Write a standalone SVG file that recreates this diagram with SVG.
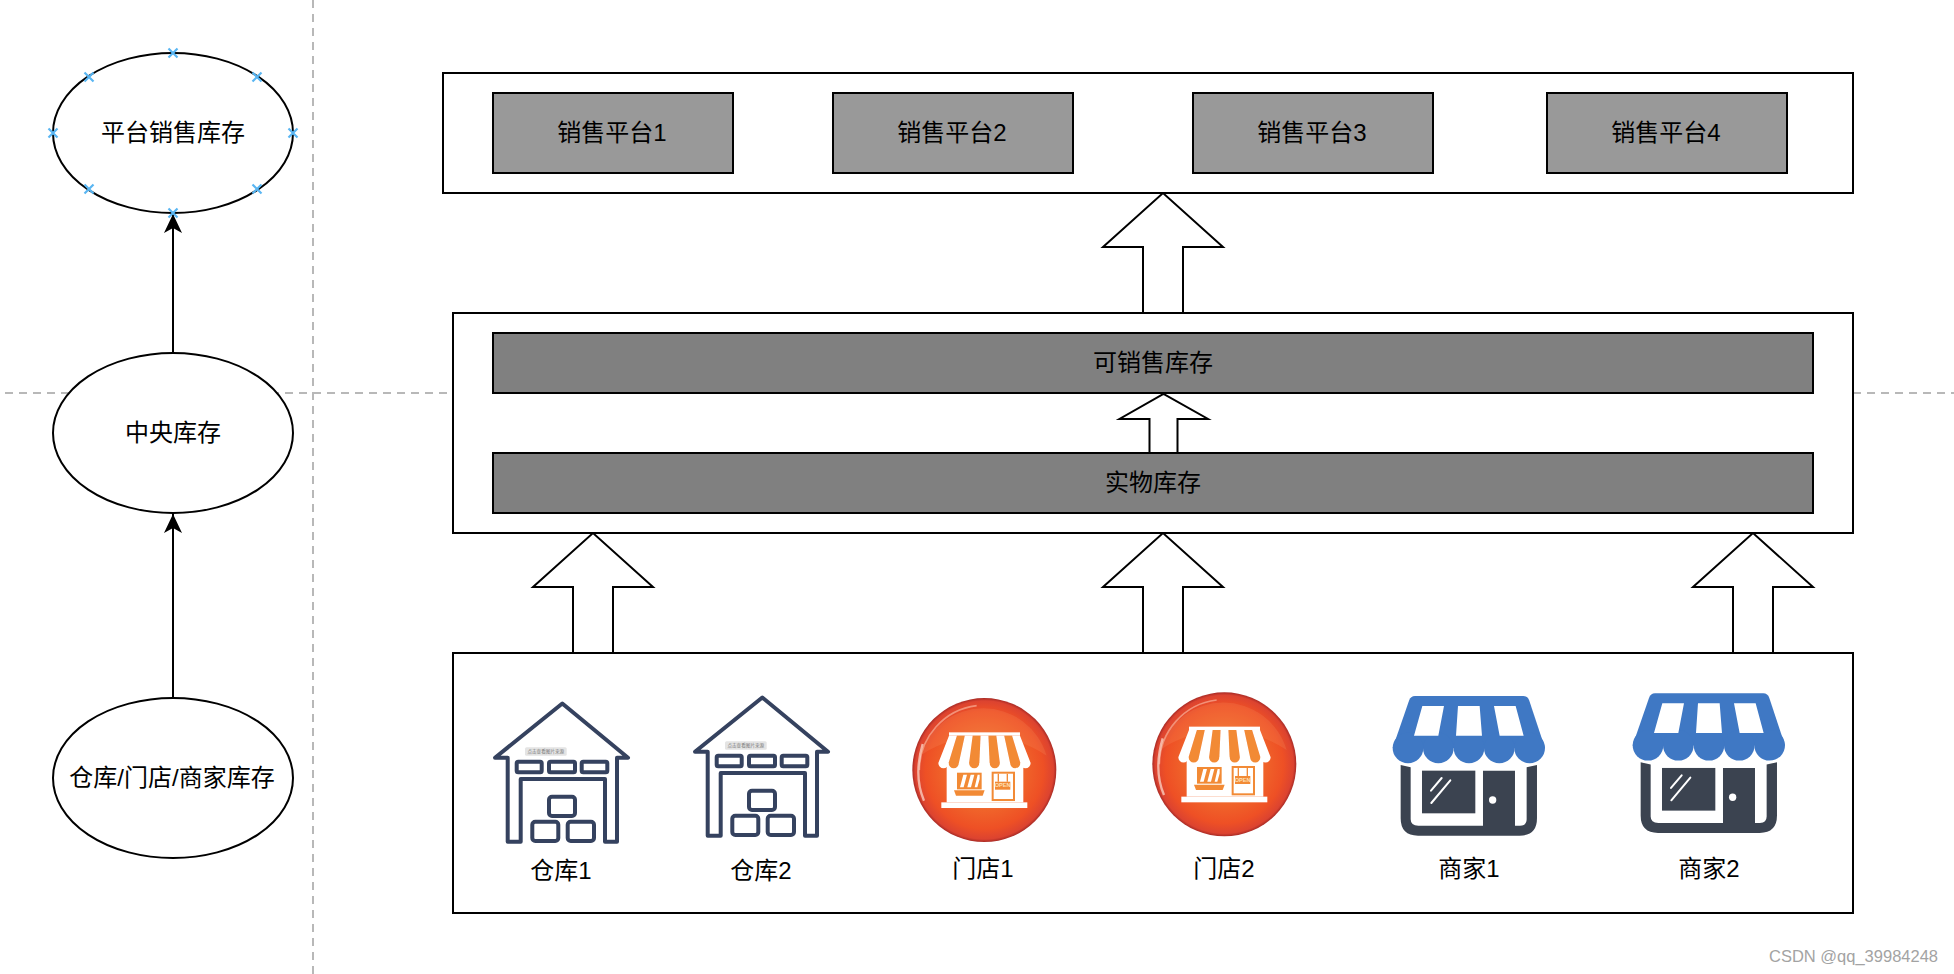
<svg xmlns="http://www.w3.org/2000/svg" width="1954" height="974" viewBox="0 0 1954 974">
<style>
text{font-family:"Liberation Sans","Noto Sans CJK SC",sans-serif;font-size:24px;fill:#000;text-anchor:middle}
.box{fill:#fff;stroke:#000;stroke-width:2}
.g1{fill:#999;stroke:#000;stroke-width:2}
.g2{fill:#808080;stroke:#000;stroke-width:2}
.ell{fill:#fff;stroke:#000;stroke-width:2}
.blk{fill:#fff;stroke:#000;stroke-width:2}
.dash{stroke:#b8b8b8;stroke-width:2;stroke-dasharray:8 6;fill:none}
.conn{stroke:#000;stroke-width:2;fill:none;marker-end:url(#ah)}
.x{stroke:#5ab6f2;stroke-width:2.2;fill:none}
.wh{fill:none;stroke:#35425f;stroke-width:4;stroke-linejoin:round}
</style>
<defs>
<marker id="ah" markerUnits="userSpaceOnUse" markerWidth="20" markerHeight="22" refX="19" refY="9" orient="auto">
<path d="M0 0L19 9L0 18L5 9Z" fill="#000"/>
</marker>
<radialGradient id="org" cx="50%" cy="50%" r="50%">
<stop offset="0" stop-color="#f48c34"/><stop offset=".82" stop-color="#ee5025"/><stop offset=".96" stop-color="#dc4330"/><stop offset="1" stop-color="#a92b25"/>
</radialGradient>
<g id="warehouse">
<path class="wh" d="M507.7 841.7V757.7H495L562.3 703.5L628 757.7H617V841.7H605V779H520.7V841.7Z"/>
<rect class="wh" x="516.7" y="761.7" width="25" height="10.6" rx="1.5"/>
<rect class="wh" x="549" y="761.7" width="26" height="10.6" rx="1.5"/>
<rect class="wh" x="581.7" y="761.7" width="25.6" height="10.6" rx="1.5"/>
<rect class="wh" x="549" y="796.7" width="26" height="19.3" rx="3"/>
<rect class="wh" x="532.3" y="821.7" width="26" height="19.3" rx="3"/>
<rect class="wh" x="567.7" y="821.7" width="26.3" height="19.3" rx="3"/>
<rect x="525" y="747.3" width="41.7" height="8.4" rx="1.5" fill="#e4e4e4"/>
<text x="545.8" y="753.3" style="font-size:4.6px;fill:#777">点击查看图片来源</text>
</g>
<g id="shop">
<circle cx="313" cy="283" r="216" fill="url(#org)"/>
<path d="M118 283A196 196 0 0 1 290 90" fill="none" stroke="#f8b09a" stroke-width="5" opacity=".7"/>
<path d="M132 375Q100 300 128 205" fill="none" stroke="#fbd5c8" stroke-width="7" opacity=".75"/>
<path d="M120 240A198 198 0 0 1 500 240A340 340 0 0 0 120 240Z" fill="#f9a070" opacity=".18"/>
<rect x="200" y="262" width="230" height="118" fill="#fff"/>
<rect x="207" y="170" width="213" height="10" fill="#fff"/>
<g fill="#f28a35">
<path d="M230.7 180H254.3L236.6 262A15.4 15.4 0 0 1 205.8 262Z"/>
<path d="M278 180H301.7L298.1 262A15.4 15.4 0 0 1 267.3 262Z"/>
<path d="M325.3 180H349L359.7 262A15.4 15.4 0 0 1 328.9 262Z"/>
<path d="M372.7 180H396.3L421.2 262A15.4 15.4 0 0 1 390.4 262Z"/>
</g>
<g fill="#fff">
<path d="M207 180H230.7L205.8 262A15.4 15.4 0 0 1 175 262Z"/>
<path d="M254.3 180H278L267.3 262A15.4 15.4 0 0 1 236.6 262Z"/>
<path d="M301.7 180H325.3L328.9 262A15.4 15.4 0 0 1 298.1 262Z"/>
<path d="M349 180H372.7L390.4 262A15.4 15.4 0 0 1 359.7 262Z"/>
<path d="M396.3 180H420L452 262A15.4 15.4 0 0 1 421.2 262Z"/>
</g>
<rect x="231" y="291" width="74" height="50" fill="#f28a35"/>
<path d="M240 335L250 297H261L251 335ZM262 335L272 297H283L273 335ZM284 335L293 297H299V310L292 335Z" fill="#fff"/>
<path d="M222 344H314L308 360H228Z" fill="#f28a35"/>
<rect x="335" y="288" width="70" height="88" fill="#f28a35"/>
<rect x="341" y="294" width="58" height="76" fill="#fff"/>
<rect x="345" y="318" width="46" height="24" fill="#f28a35"/>
<path d="M355 294V318M382 294V318" stroke="#f28a35" stroke-width="4"/>
<text x="368" y="335" style="font-size:17px;fill:#fde0b8;font-weight:bold">OPEN</text>
<rect x="184" y="380" width="258" height="17" fill="#fff"/>
</g>
<g id="merchant">
<path d="M92 285V445Q92 497 144 497H449Q501 497 501 445V285L470 292V448Q470 467 450 467H435V302H339V467H145Q122 467 122 448V292Z" fill="#3b4350"/>
<rect x="156" y="302" width="160" height="128" fill="#3b4350"/>
<circle cx="368" cy="390" r="11" fill="#fff"/>
<path d="M183 362L215 324M184 399L241 331" stroke="#fff" stroke-width="6" stroke-linecap="round" fill="none"/>
<g fill="#3f78c4">
<path d="M135 78H460Q473 78 478 92L525 234H68L117 92Q122 78 135 78Z"/>
<circle cx="114" cy="234" r="46"/><circle cx="205" cy="234" r="46"/><circle cx="297" cy="234" r="46"/><circle cx="388" cy="234" r="46"/><circle cx="479" cy="234" r="46"/>
</g>
<path d="M157 108H222L205 197H132ZM264 108H329L336 197H258ZM372 108H437L461 197H389Z" fill="#fff"/>
</g>
</defs>
<rect width="1954" height="974" fill="#fff"/>
<g id="guides">
<path class="dash" d="M5 393H1954"/>
<path class="dash" d="M313 0V974"/>
</g>
<g id="connectors">
<path class="conn" d="M173 698V514"/>
<path class="conn" d="M173 353V214"/>
<path class="blk" d="M1143 313V247H1103L1163 193L1223 247H1183V313Z"/>
<path class="blk" d="M573 653V587H533L593 533L653 587H613V653Z"/>
<path class="blk" d="M1143 653V587H1103L1163 533L1223 587H1183V653Z"/>
<path class="blk" d="M1733 653V587H1693L1753 533L1813 587H1773V653Z"/>
</g>
<g id="n-platform">
<ellipse class="ell" cx="173" cy="133" rx="120" ry="80"/>
<text x="173" y="141">平台销售库存</text>
<path class="x" d="M168.500 48.500l9 9m0-9l-9 9M84.500 72.500l9 9m0-9l-9 9M252.500 72.500l9 9m0-9l-9 9M48.500 128.500l9 9m0-9l-9 9M288.500 128.500l9 9m0-9l-9 9M84.500 184.500l9 9m0-9l-9 9M252.500 184.500l9 9m0-9l-9 9M168.500 208.500l9 9m0-9l-9 9"/>
</g>
<g id="n-central"><ellipse class="ell" cx="173" cy="433" rx="120" ry="80"/><text x="173" y="441">中央库存</text></g>
<g id="n-stock"><ellipse class="ell" cx="173" cy="778" rx="120" ry="80"/><text x="172" y="786">仓库/门店/商家库存</text></g>
<g id="n-top"><rect class="box" x="443" y="73" width="1410" height="120"/></g>
<g id="n-s1"><rect class="g1" x="493" y="93" width="240" height="80"/><text x="612" y="141">销售平台1</text></g>
<g id="n-s2"><rect class="g1" x="833" y="93" width="240" height="80"/><text x="952" y="141">销售平台2</text></g>
<g id="n-s3"><rect class="g1" x="1193" y="93" width="240" height="80"/><text x="1312" y="141">销售平台3</text></g>
<g id="n-s4"><rect class="g1" x="1547" y="93" width="240" height="80"/><text x="1666" y="141">销售平台4</text></g>
<g id="n-middle"><rect class="box" x="453" y="313" width="1400" height="220"/></g>
<g id="n-avail"><rect class="g2" x="493" y="333" width="1320" height="60"/><text x="1153" y="371">可销售库存</text></g>
<g id="n-arrow-in"><path class="blk" d="M1149.500 453V419H1119.500L1163.500 394L1208 419H1177.500V453Z"/></g>
<g id="n-phys"><rect class="g2" x="493" y="453" width="1320" height="60"/><text x="1153" y="491">实物库存</text></g>
<g id="n-bottom"><rect class="box" x="453" y="653" width="1400" height="260"/></g>
<g id="wh1"><use href="#warehouse"/><text x="561" y="879">仓库1</text></g>
<g id="wh2"><use href="#warehouse" transform="translate(200,-6)"/><text x="761" y="879">仓库2</text></g>
<g id="st1"><use href="#shop" transform="translate(880,675.700) scale(.3333)"/><text x="983" y="877">门店1</text></g>
<g id="st2"><use href="#shop" transform="translate(1120,670) scale(.3333)"/><text x="1224" y="877">门店2</text></g>
<g id="mc1"><use href="#merchant" transform="translate(1370,670) scale(.3333)"/><text x="1469" y="877">商家1</text></g>
<g id="mc2"><use href="#merchant" transform="translate(1610,667.300) scale(.3333)"/><text x="1709" y="877">商家2</text></g>
<text id="wm" x="1853.500" y="962" style="font-size:16.5px;fill:#a3a3a3">CSDN @qq_39984248</text>
</svg>
